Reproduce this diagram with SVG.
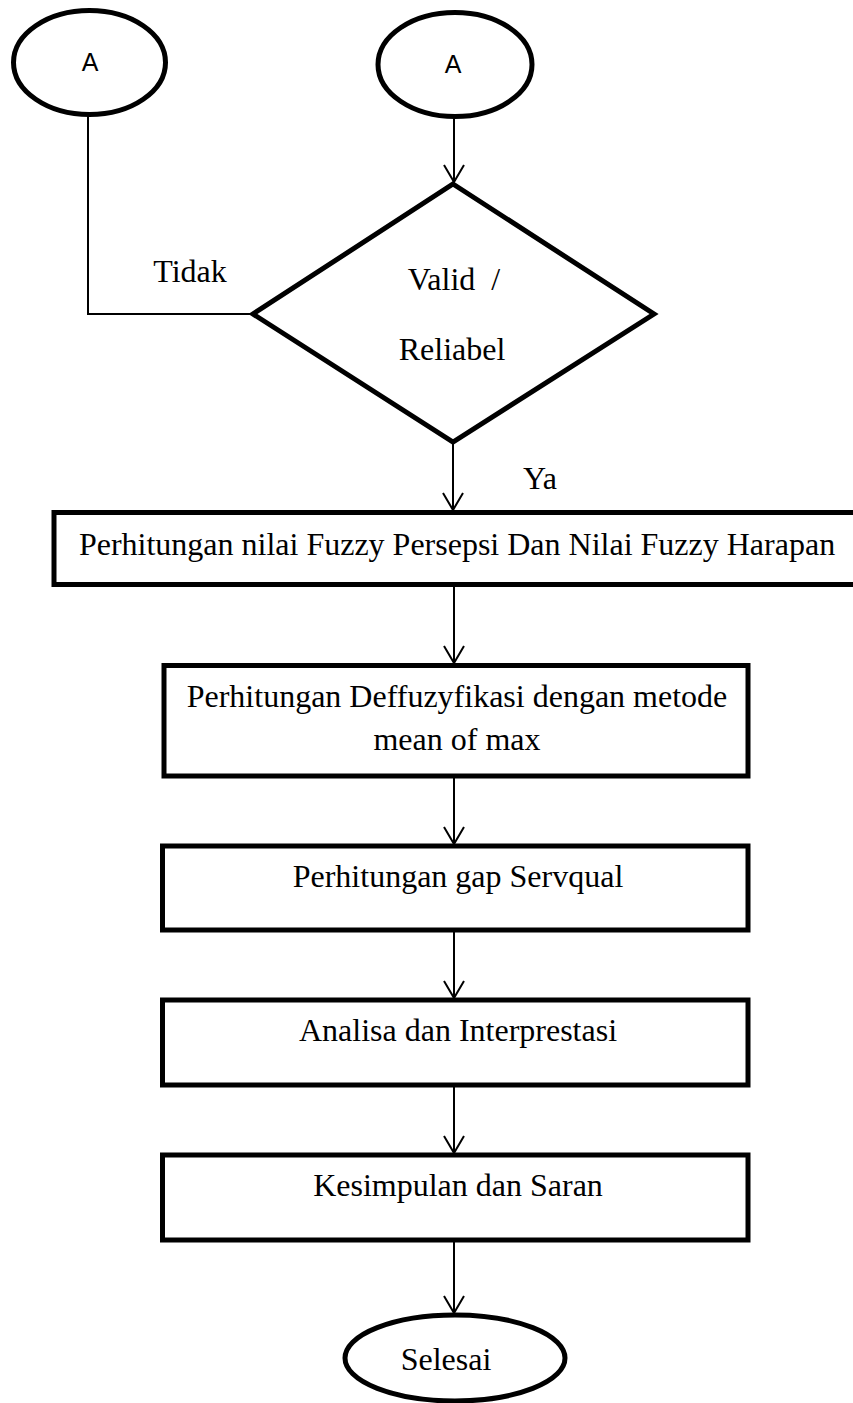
<svg xmlns="http://www.w3.org/2000/svg" width="853" height="1403" viewBox="0 0 853 1403">
<style>
.shape{fill:#fff;stroke:#000;stroke-width:5}
.conn{fill:none;stroke:#000;stroke-width:2}
.t{font-family:"Liberation Serif","Times New Roman",serif;font-size:32px;fill:#000;text-anchor:middle}
.s{font-family:"Liberation Sans",Arial,sans-serif;font-size:25px;fill:#000;text-anchor:middle}
</style>
<defs>
<marker id="arr" markerUnits="userSpaceOnUse" viewBox="-20 -12 24 24" refX="0" refY="0" markerWidth="24" markerHeight="24" orient="auto">
<path d="M-17,-10 L0,0 L-17,10" fill="none" stroke="#000" stroke-width="2"/>
</marker>
</defs>
<g id="connectors">
<polyline class="conn" points="88,115 88,314 253,314"/>
<line class="conn" x1="454" y1="117" x2="454" y2="182" marker-end="url(#arr)"/>
<line class="conn" x1="453" y1="442" x2="453" y2="510" marker-end="url(#arr)"/>
<line class="conn" x1="454" y1="587" x2="454" y2="663" marker-end="url(#arr)"/>
<line class="conn" x1="454" y1="778" x2="454" y2="844" marker-end="url(#arr)"/>
<line class="conn" x1="454" y1="932" x2="454" y2="998" marker-end="url(#arr)"/>
<line class="conn" x1="454" y1="1087" x2="454" y2="1153" marker-end="url(#arr)"/>
<line class="conn" x1="454" y1="1242" x2="454" y2="1313" marker-end="url(#arr)"/>
<text class="t" x="190" y="282">Tidak</text>
<text class="t" x="540" y="489">Ya</text>
</g>
<g id="nodeA1">
<ellipse class="shape" cx="89.5" cy="62.5" rx="76" ry="52"/>
<text class="s" x="90" y="71">A</text>
</g>
<g id="nodeA2">
<ellipse class="shape" cx="455" cy="64.5" rx="77" ry="52"/>
<text class="s" x="453" y="73">A</text>
</g>
<g id="decision">
<polygon class="shape" points="453,184 654,314 453,442 253,314"/>
<text class="t" x="454" y="290" xml:space="preserve">Valid  /</text>
<text class="t" x="452" y="360">Reliabel</text>
</g>
<g id="fuzzy">
<rect class="shape" x="54" y="512.5" width="820" height="72"/>
<text class="t" x="457" y="555">Perhitungan nilai Fuzzy Persepsi Dan Nilai Fuzzy Harapan</text>
</g>
<g id="defuzz">
<rect class="shape" x="164" y="665.5" width="584" height="110.5"/>
<text class="t" x="457" y="707">Perhitungan Deffuzyfikasi dengan metode</text>
<text class="t" x="457" y="750">mean of max</text>
</g>
<g id="gap">
<rect class="shape" x="162.5" y="846" width="585.5" height="84"/>
<text class="t" x="458" y="887">Perhitungan gap Servqual</text>
</g>
<g id="analisa">
<rect class="shape" x="162.5" y="1000" width="585.5" height="85"/>
<text class="t" x="458" y="1041">Analisa dan Interprestasi</text>
</g>
<g id="kesimpulan">
<rect class="shape" x="162.5" y="1155" width="585.5" height="85"/>
<text class="t" x="458" y="1196">Kesimpulan dan Saran</text>
</g>
<g id="selesai">
<ellipse class="shape" cx="455" cy="1358" rx="110" ry="43"/>
<text class="t" x="446" y="1370">Selesai</text>
</g>
</svg>
